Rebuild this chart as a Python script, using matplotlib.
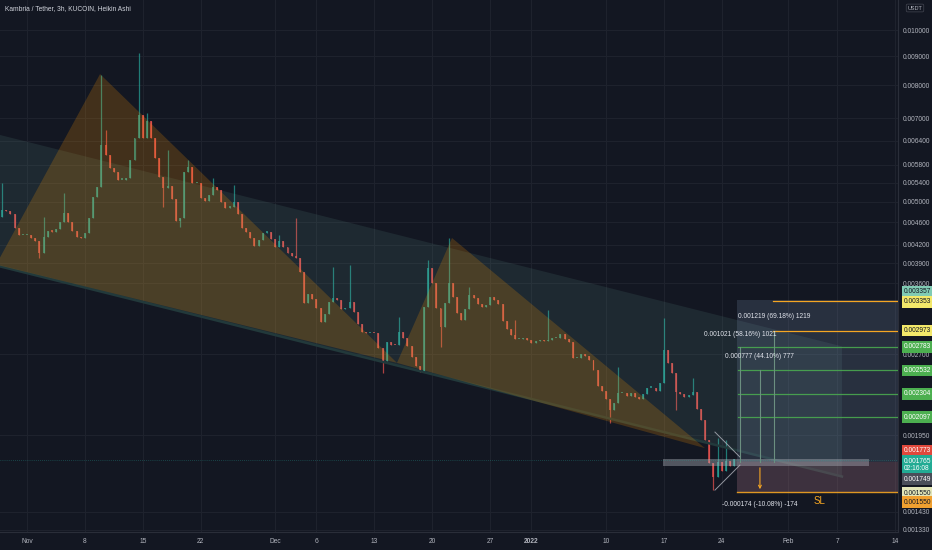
import matplotlib
matplotlib.use('Agg')
import matplotlib.pyplot as plt
import matplotlib.dates as mdates
import matplotlib.transforms as mtransforms
import pandas as pd

# ---- data (12h steps, Heikin Ashi style bodies) ----
closes = [
    0.00484, 0.00481, 0.00475, 0.00449, 0.00437, 0.00437, 0.00437, 0.00432, 0.00427, 0.00407,
    0.00434, 0.00444, 0.00443, 0.00448, 0.00461, 0.00478, 0.00461, 0.00444, 0.00434, 0.00432,
    0.00441, 0.00468, 0.00510, 0.00531, 0.00628, 0.00605, 0.00573, 0.00564, 0.00546, 0.00546,
    0.00550, 0.00592, 0.00647, 0.00711, 0.00647, 0.00692, 0.00647, 0.00596, 0.00553, 0.00529,
    0.00533, 0.00506, 0.00463, 0.00468, 0.00564, 0.00575, 0.00539, 0.00539, 0.00508, 0.00501,
    0.00514, 0.00531, 0.00524, 0.00500, 0.00488, 0.00490, 0.00500, 0.00476, 0.00449, 0.00443,
    0.00432, 0.00419, 0.00429, 0.00441, 0.00443, 0.00430, 0.00417, 0.00427, 0.00417, 0.00406,
    0.00402, 0.00399, 0.00377, 0.00332, 0.00345, 0.00338, 0.00326, 0.00308, 0.00318, 0.00334,
    0.00339, 0.00336, 0.00324, 0.00326, 0.00334, 0.00320, 0.00305, 0.00296, 0.00294, 0.00295,
    0.00294, 0.00277, 0.00263, 0.00284, 0.00281, 0.00280, 0.00296, 0.00288, 0.00279, 0.00267,
    0.00258, 0.00252, 0.00327, 0.00382, 0.00360, 0.00326, 0.00302, 0.00333, 0.00360, 0.00341,
    0.00319, 0.00310, 0.00324, 0.00343, 0.00339, 0.00331, 0.00327, 0.00329, 0.00340, 0.00336,
    0.00331, 0.00309, 0.00299, 0.00292, 0.00287, 0.00287, 0.00288, 0.00286, 0.00283, 0.00285,
    0.00286, 0.00285, 0.00286, 0.00288, 0.00288, 0.00293, 0.00287, 0.00284, 0.00266, 0.00266,
    0.00271, 0.00268, 0.00264, 0.00254, 0.00238, 0.00233, 0.00226, 0.00216, 0.00222, 0.00231,
    0.00231, 0.00228, 0.00231, 0.00227, 0.00226, 0.00230, 0.00236, 0.00236, 0.00233, 0.00241,
    0.00275, 0.00261, 0.00251, 0.00232, 0.00230, 0.00227, 0.00229, 0.00232, 0.00217, 0.00207,
    0.00191, 0.00174, 0.00165, 0.00175, 0.00169, 0.00176, 0.00172, 0.00177,
]
first_open = 0.00470
start_time = '2021-10-29 00:00'

# wick extremes where a candle pokes out of its body
spike_highs = {0: 0.00539, 10: 0.00470, 15: 0.00518, 24: 0.00834, 25: 0.00668, 33: 0.00911,
               35: 0.00716, 40: 0.00616, 45: 0.00592, 51: 0.00550, 56: 0.00535, 67: 0.00437,
               71: 0.00468, 80: 0.00384, 84: 0.00387, 96: 0.00314, 103: 0.00395, 108: 0.00432,
               113: 0.00355, 124: 0.00310, 132: 0.00323, 149: 0.00257, 160: 0.00313,
               167: 0.00246, 173: 0.00193, 175: 0.00191}
spike_lows = {9: 0.00399, 39: 0.00490, 43: 0.00452, 92: 0.00251, 106: 0.00278,
              147: 0.00205, 163: 0.00216, 172: 0.00156}

# drawings (date, price)
channel_dates = ['2021-10-28 12:00', '2022-02-07 13:00']
channel_upper = [0.00656, 0.00279]
channel_lower = [0.00386, 0.00165]

xabcd_dates = ['2021-10-28 06:30', '2021-11-09 20:00', '2021-12-15 17:45',
               '2021-12-22 09:20', '2022-01-21 23:30']
xabcd_prices = [0.00388, 0.00837, 0.00261, 0.00432, 0.00185]

tri_dates = ['2022-01-23 04:30', '2022-01-26 05:00']
tri_upper = [0.001974, 0.001785]
tri_lower = [0.001562, 0.001728]

pos_start = '2022-01-25 20:24'
pos_end = '2022-02-16 00:00'
pos_target = 0.003357
pos_entry = 0.001749
pos_stop = 0.001550

band_dates = ['2022-01-16 21:40', '2022-02-10 19:30']
band_prices = [0.001721, 0.001773]

orange_levels = [0.003353, 0.002973]
orange_start = '2022-01-30 05:00'
green_levels = [0.002783, 0.002532, 0.002304, 0.002097]
green_start = '2022-01-25 23:20'

y_ticks = [0.010000, 0.009000, 0.008000, 0.007000, 0.006400, 0.005800, 0.005400,
           0.005000, 0.004600, 0.004200, 0.003900, 0.003600, 0.002700, 0.001950,
           0.001430, 0.001330]
x_tick_dates = ['2021-11-01', '2021-11-08', '2021-11-15', '2021-11-22', '2021-12-01',
                '2021-12-06', '2021-12-13', '2021-12-20', '2021-12-27', '2022-01-01',
                '2022-01-10', '2022-01-17', '2022-01-24', '2022-02-01', '2022-02-07',
                '2022-02-14']
x_tick_labels = ['Nov', '8', '15', '22', 'Dec', '6', '13', '20', '27', '2022',
                 '10', '17', '24', 'Feb', '7', '14']

BG = '#131722'
TXT = '#b2b5be'
FS = 4.8
plt.rcParams['font.family'] = ['Liberation Sans Narrow', 'Liberation Sans', 'DejaVu Sans']


def dn(s):
    return mdates.date2num(pd.Timestamp(s))


fig = plt.figure(figsize=(9.32, 5.5), dpi=100, facecolor=BG)
ax = fig.add_axes([0, 18 / 550, 898 / 932, 532 / 550])
ax.set_facecolor(BG)
ax.set_yscale('log')

# candles
times = mdates.date2num(pd.date_range(start_time, periods=len(closes), freq='12h'))
opens = [first_open] + closes[:-1]
cols, bottoms, heights, highs, lows = [], [], [], [], []
for i, (o, c) in enumerate(zip(opens, closes)):
    cols.append('#26a69a' if c >= o else '#ef5350')
    lo, hi = min(o, c), max(o, c)
    bottoms.append(lo)
    heights.append(max(hi - lo, lo * 0.006))
    highs.append(max(hi, spike_highs.get(i, hi)))
    lows.append(min(lo, spike_lows.get(i, lo)))
ax.vlines(times, lows, highs, colors=cols, lw=0.9, alpha=0.7, zorder=1)
ax.bar(times, heights, bottom=bottoms, width=0.24, color=cols, alpha=0.7, lw=0, zorder=1)

# parallel channel
cd = [dn(d) for d in channel_dates]
ax.fill([cd[0], cd[1], cd[1], cd[0]],
        [channel_upper[0], channel_upper[1], channel_lower[1], channel_lower[0]],
        color='#6aa596', alpha=0.13, lw=0, zorder=2)
ax.plot(cd, channel_lower, color='#22393b', lw=1.8, zorder=2)

# XABCD triangles
xd = [dn(d) for d in xabcd_dates]
ax.fill([xd[0], xd[1], xd[2]], xabcd_prices[0:3], color='#ff9800', alpha=0.2, lw=0, zorder=3)
ax.fill([xd[2], xd[3], xd[4]], xabcd_prices[2:5], color='#ff9800', alpha=0.2, lw=0, zorder=3)

# small converging triangle
td = [dn(d) for d in tri_dates]
ax.plot(td, tri_upper, color='#b2b5be', lw=0.7, alpha=0.8, zorder=5)
ax.plot(td, tri_lower, color='#b2b5be', lw=0.7, alpha=0.8, zorder=5)

# position boxes
p0, p1 = dn(pos_start), dn(pos_end)
ax.fill([p0, p1, p1, p0], [pos_target, pos_target, pos_entry, pos_entry],
        color='#7f95b8', alpha=0.2, lw=0, zorder=4)
ax.fill([p0, p1, p1, p0], [pos_entry, pos_entry, pos_stop, pos_stop],
        color='#a0707f', alpha=0.3, lw=0, zorder=4)
ax.plot([p0, p1], [pos_stop, pos_stop], color='#f5a623', lw=1.0, alpha=0.9, zorder=5)

# grey rectangle around entry
bd = [dn(d) for d in band_dates]
ax.fill([bd[0], bd[1], bd[1], bd[0]], [band_prices[0], band_prices[0], band_prices[1], band_prices[1]],
        color='#b2b5be', alpha=0.4, lw=0, zorder=5)

# horizontal rays
for lv in orange_levels:
    ax.plot([dn(orange_start), p1], [lv, lv], color='#f5a623', lw=0.9, zorder=5)
for lv in green_levels:
    ax.plot([dn(green_start), p1], [lv, lv], color='#4caf50', lw=0.9, alpha=0.85, zorder=5)

# price range measures
measures = [('2022-01-26 05:00', 0.002783, '0.001021 (58.16%) 1021', 0.002932),
            ('2022-01-28 15:00', 0.002532, '0.000777 (44.10%) 777', 0.002673),
            ('2022-01-30 08:00', 0.002973, '0.001219 (69.18%) 1219', 0.003141)]
for d, top, label, ty in measures:
    ax.plot([dn(d), dn(d)], [pos_entry, top], color='#6b8f80', lw=0.8, zorder=5)
    ax.text(dn(d), ty, label, color='#e0e3eb', fontsize=FS, ha='center', va='center', zorder=7)
ax.annotate('', xy=(dn('2022-01-28 15:00'), pos_stop), xytext=(dn('2022-01-28 15:00'), 0.001728),
            arrowprops=dict(arrowstyle='->', color='#f5a623', lw=0.8, mutation_scale=5), zorder=6)
ax.text(dn('2022-01-28 15:00'), 0.001471, '-0.000174 (-10.08%) -174', color='#e0e3eb',
        fontsize=FS, ha='center', va='center', zorder=7)
ax.text(dn('2022-02-04 18:30'), 0.001495, 'SL', color='#f5a623', fontsize=7, ha='center',
        va='center', zorder=7)

# last price line
ax.axhline(0.001765, color='#26a69a', lw=0.5, ls=(0, (1, 2)), alpha=0.6, zorder=5)

# axes
ax.set_xlim(dn('2021-10-28 17:40'), dn('2022-02-14 07:40'))
ax.set_ylim(0.001319, 0.011287)
ax.yaxis.tick_right()
ax.set_yticks(y_ticks)
ax.set_yticklabels([f'{v:.6f}' for v in y_ticks])
ax.yaxis.set_minor_locator(matplotlib.ticker.NullLocator())
ax.set_xticks([dn(d) for d in x_tick_dates])
ax.set_xticklabels(x_tick_labels)
ax.tick_params(axis='both', length=0, labelsize=FS, labelcolor=TXT)
ax.tick_params(axis='y', pad=3.5)
ax.tick_params(axis='x', pad=4)
ax.grid(True, color='#1e222d', lw=0.8, zorder=0)
ax.set_axisbelow(True)
for s in ['top', 'left']:
    ax.spines[s].set_visible(False)
ax.spines['right'].set_color('#2a2e39')
ax.spines['bottom'].set_color('#2a2e39')
for lab in ax.get_xticklabels():
    if lab.get_text() == '2022':
        lab.set_fontweight('bold')

# price tags on the right scale
tags = [(0.003357, '0.003357', '#80cbb4', '#131722', -8.5),
        (0.003353, '0.003353', '#f3e86a', '#131722', 1),
        (0.002973, '0.002973', '#f3e86a', '#131722', 0),
        (0.002783, '0.002783', '#4caf50', '#ffffff', 0),
        (0.002532, '0.002532', '#4caf50', '#ffffff', 0),
        (0.002304, '0.002304', '#4caf50', '#ffffff', 0),
        (0.002097, '0.002097', '#4caf50', '#ffffff', 0),
        (0.001773, '0.001773', '#e0483c', '#ffffff', -8),
        (0.001765, '0.001765\n02:16:08', '#22ab94', '#ffffff', 5),
        (0.001749, '0.001749', '#4a4e59', '#ffffff', 17),
        (0.001550, '0.001550', '#e3e6b8', '#131722', 1),
        (0.001550, '0.001550', '#f0a030', '#131722', 10)]
for price, text, bg, fg, dy in tags:
    tr = mtransforms.offset_copy(ax.get_yaxis_transform(), fig=fig, x=6, y=-dy, units='dots')
    ax.text(1.0, price, text, transform=tr, ha='left', va='center', fontsize=FS, color=fg,
            linespacing=1.1, clip_on=False, zorder=10,
            bbox=dict(boxstyle='square,pad=0.35', fc=bg, ec='none'))

fig.text(5 / 932, 1 - 9 / 550, 'Kambria / Tether, 3h, KUCOIN, Heikin Ashi', ha='left',
         va='center', fontsize=4.8, color='#d1d4dc')
fig.text(915 / 932, 1 - 8 / 550, 'USDT', ha='center', va='center', fontsize=4, color=TXT,
         bbox=dict(boxstyle='round,pad=0.25', fc=BG, ec='#434651', lw=0.5))

fig.savefig('out.png', dpi=100, facecolor=BG)
